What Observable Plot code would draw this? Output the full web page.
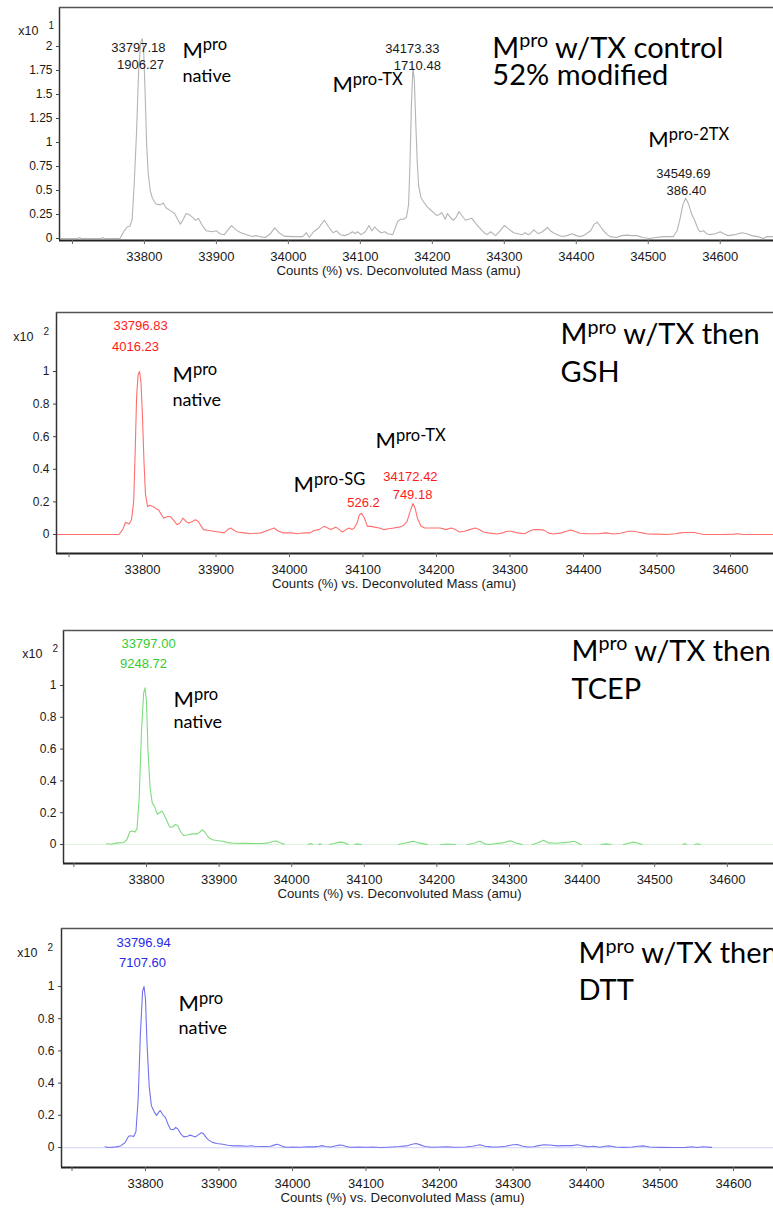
<!DOCTYPE html>
<html><head><meta charset="utf-8">
<script src="https://cdn.jsdelivr.net/npm/d3@7"></script>
<script src="https://cdn.jsdelivr.net/npm/@observablehq/plot@0.6"></script>
<style>
body{margin:0;background:#fff;}
#root{position:relative;width:773px;height:1208px;overflow:hidden;background:#fff;}
.panel{position:absolute;left:0;width:773px;}
</style></head><body><div id="root"></div>
<script>
// ---------- data ----------
const xTicks = [33700, 33800, 33900, 34000, 34100, 34200, 34300, 34400, 34500, 34600];
const yTicksControl = [0, 0.25, 0.5, 0.75, 1, 1.25, 1.5, 1.75, 2];
const yTicksOther = [0, 0.2, 0.4, 0.6, 0.8, 1];
const axisTitle = "Counts (%) vs. Deconvoluted Mass (amu)";

// Mpro w/TX control (x10^1)
const controlTrace = [[33684,0],[33708,0],[33710,0.01],[33712,0],[33740,0],[33742,0.01],[33744,0],[33766,0],[33772,0.08],[33776,0.12],[33780,0.13],[33783,0.2],[33786,0.6],[33789,1.1],[33792,1.75],[33795,2.05],[33797,2.08],[33799,1.95],[33801,1.5],[33803,1.0],[33805,0.7],[33808,0.5],[33811,0.42],[33816,0.36],[33822,0.35],[33826,0.37],[33830,0.32],[33836,0.29],[33842,0.26],[33846,0.2],[33850,0.15],[33854,0.2],[33858,0.26],[33862,0.25],[33867,0.22],[33871,0.19],[33875,0.21],[33880,0.14],[33886,0.08],[33894,0.07],[33900,0.08],[33905,0.05],[33911,0.04],[33916,0.09],[33921,0.135],[33927,0.09],[33934,0.06],[33942,0.04],[33950,0.02],[33955,0.03],[33960,0.02],[33968,0.01],[33975,0.05],[33981,0.11],[33987,0.06],[33994,0.025],[34005,0.02],[34015,0.02],[34020,0.02],[34025,0.06],[34029,0.01],[34035,0.07],[34042,0.11],[34050,0.19],[34056,0.12],[34062,0.06],[34067,0.08],[34072,0.04],[34078,0.03],[34085,0.05],[34089,0.07],[34093,0.05],[34096,0.07],[34101,0.04],[34107,0.07],[34112,0.135],[34116,0.08],[34120,0.12],[34125,0.08],[34129,0.06],[34134,0.07],[34138,0.05],[34145,0.04],[34148,0.1],[34152,0.18],[34156,0.2],[34160,0.2],[34164,0.22],[34167,0.35],[34169,0.8],[34171,1.4],[34173,1.78],[34175,1.65],[34177,1.2],[34179,0.8],[34181,0.55],[34184,0.43],[34188,0.38],[34193,0.33],[34197,0.3],[34202,0.27],[34206,0.24],[34210,0.25],[34213,0.27],[34218,0.2],[34221,0.26],[34225,0.22],[34229,0.19],[34233,0.22],[34237,0.28],[34241,0.24],[34246,0.19],[34250,0.2],[34255,0.21],[34261,0.15],[34267,0.1],[34272,0.06],[34276,0.04],[34281,0.07],[34288,0.03],[34294,0.08],[34300,0.135],[34306,0.1],[34313,0.06],[34319,0.05],[34325,0.04],[34329,0.06],[34333,0.04],[34336,0.05],[34341,0.09],[34347,0.05],[34353,0.07],[34360,0.115],[34364,0.08],[34368,0.06],[34374,0.04],[34380,0.02],[34387,0.03],[34394,0.05],[34400,0.03],[34405,0.02],[34410,0.03],[34414,0.05],[34420,0.08],[34425,0.15],[34429,0.17],[34434,0.12],[34438,0.08],[34443,0.04],[34447,0.02],[34456,0.01],[34463,0.03],[34470,0.035],[34477,0.03],[34484,0.03],[34492,0.01],[34502,0],[34510,0.01],[34521,0.02],[34528,0.02],[34535,0.02],[34540,0.08],[34544,0.2],[34548,0.35],[34552,0.42],[34556,0.36],[34560,0.26],[34565,0.18],[34569,0.1],[34572,0.07],[34577,0.08],[34581,0.05],[34586,0.04],[34593,0.05],[34600,0.07],[34605,0.05],[34611,0.03],[34620,0.04],[34630,0.06],[34637,0.05],[34644,0.03],[34652,0.02],[34660,0],[34665,0.02],[34674,0.02]];

// Mpro w/TX then GSH (x10^2)
const gshTrace = [[33684,0],[33768,0],[33773,0.03],[33777,0.075],[33782,0.065],[33785,0.09],[33788,0.2],[33790,0.5],[33792,0.85],[33794,0.98],[33796,1.0],[33798,0.93],[33800,0.72],[33802,0.45],[33804,0.25],[33807,0.17],[33810,0.18],[33815,0.17],[33818,0.16],[33822,0.15],[33826,0.12],[33829,0.1],[33834,0.11],[33838,0.11],[33842,0.09],[33847,0.06],[33851,0.07],[33855,0.1],[33859,0.08],[33863,0.07],[33868,0.08],[33872,0.09],[33876,0.08],[33880,0.05],[33883,0.03],[33890,0.025],[33897,0.02],[33904,0.015],[33911,0.01],[33916,0.03],[33920,0.04],[33925,0.025],[33929,0.015],[33938,0.01],[33947,0.005],[33955,0.008],[33961,0.01],[33970,0.025],[33979,0.04],[33985,0.02],[33992,0.01],[34003,0.01],[34010,0.005],[34015,0.008],[34022,0.01],[34028,0.01],[34033,0.025],[34040,0.03],[34047,0.05],[34052,0.04],[34056,0.03],[34063,0.045],[34068,0.03],[34072,0.015],[34077,0.03],[34081,0.04],[34085,0.03],[34088,0.04],[34092,0.07],[34095,0.12],[34098,0.13],[34102,0.1],[34106,0.05],[34111,0.05],[34116,0.045],[34122,0.04],[34128,0.03],[34135,0.035],[34142,0.04],[34149,0.045],[34155,0.055],[34160,0.08],[34164,0.14],[34168,0.19],[34171,0.16],[34174,0.1],[34179,0.05],[34184,0.04],[34190,0.04],[34198,0.04],[34205,0.04],[34213,0.03],[34220,0.04],[34226,0.03],[34231,0.015],[34238,0.02],[34245,0.03],[34253,0.04],[34258,0.03],[34264,0.015],[34270,0.01],[34282,0.003],[34290,0.01],[34296,0.02],[34302,0.02],[34310,0.01],[34320,0.005],[34326,0.02],[34332,0.03],[34340,0.03],[34346,0.027],[34352,0.01],[34359,0.003],[34370,0.01],[34377,0.02],[34382,0.027],[34388,0.02],[34395,0.008],[34405,0.005],[34420,0.005],[34430,0.01],[34441,0.003],[34450,0.008],[34457,0.015],[34462,0.02],[34468,0.02],[34473,0.015],[34480,0.01],[34487,0.003],[34500,0.002],[34514,0],[34525,0.005],[34532,0.01],[34537,0.012],[34545,0.012],[34551,0.012],[34558,0.005],[34564,0],[34590,0],[34605,0.002],[34611,0.005],[34616,0],[34623,0],[34659,0]];

// Mpro w/TX then TCEP (x10^2); null = gap in the trace
const tcepTrace = [[33745,0.005],[33752,0.002],[33760,0.01],[33768,0.012],[33773,0.03],[33777,0.08],[33780,0.085],[33784,0.078],[33787,0.1],[33790,0.3],[33793,0.7],[33796,0.95],[33798,0.985],[33800,0.9],[33802,0.6],[33805,0.35],[33808,0.26],[33811,0.24],[33815,0.19],[33818,0.2],[33821,0.21],[33824,0.19],[33828,0.15],[33832,0.11],[33836,0.11],[33840,0.126],[33843,0.12],[33847,0.08],[33851,0.057],[33856,0.06],[33863,0.067],[33870,0.067],[33874,0.08],[33877,0.092],[33880,0.08],[33883,0.06],[33886,0.042],[33891,0.03],[33897,0.025],[33905,0.02],[33912,0.012],[33920,0.008],[33935,0.007],[33950,0.006],[33960,0.006],[33968,0.01],[33975,0.02],[33979,0.022],[33983,0.012],[33990,0.002],[33991,null],[34023,0],[34026,0.006],[34029,0],[34030,null],[34037,0],[34039,0.005],[34041,0],[34042,null],[34052,0],[34058,0.006],[34063,0.012],[34068,0.015],[34073,0.01],[34078,0],[34079,null],[34087,0],[34090,0.004],[34096,0],[34097,null],[34147,0],[34155,0.008],[34162,0.015],[34168,0.02],[34175,0.01],[34182,0.004],[34187,0],[34188,null],[34205,0],[34215,0.003],[34226,0],[34227,null],[34242,0],[34250,0.006],[34259,0.02],[34266,0.004],[34272,0],[34280,0.005],[34290,0.01],[34301,0.023],[34310,0.008],[34318,0],[34319,null],[34332,0],[34340,0.012],[34347,0.027],[34354,0.01],[34365,0.008],[34375,0.012],[34382,0.015],[34389,0.02],[34395,0.008],[34398,0],[34399,null],[34426,0],[34433,0.004],[34440,0],[34441,null],[34457,0],[34464,0.008],[34471,0.015],[34477,0.008],[34483,0],[34484,null],[34539,0],[34541,0.006],[34544,0],[34545,null],[34555,0],[34559,0.005],[34563,0]];

// Mpro w/TX then DTT (x10^2)
const dttTrace = [[33745,0.005],[33750,0],[33760,0.004],[33766,0.01],[33772,0.03],[33777,0.07],[33780,0.073],[33784,0.068],[33787,0.1],[33790,0.3],[33793,0.7],[33796,0.97],[33798,1.0],[33800,0.92],[33802,0.65],[33805,0.38],[33808,0.26],[33812,0.22],[33815,0.2],[33818,0.22],[33820,0.23],[33824,0.2],[33827,0.187],[33831,0.14],[33834,0.114],[33838,0.11],[33841,0.125],[33844,0.115],[33848,0.085],[33852,0.066],[33857,0.07],[33861,0.077],[33865,0.07],[33868,0.066],[33872,0.08],[33876,0.092],[33879,0.085],[33883,0.06],[33886,0.046],[33891,0.032],[33897,0.025],[33905,0.02],[33912,0.014],[33920,0.01],[33930,0.01],[33938,0.008],[33944,0.011],[33948,0.008],[33960,0.006],[33970,0.008],[33975,0.015],[33979,0.02],[33984,0.012],[33988,0.004],[33993,0.002],[34000,0.003],[34010,0.002],[34020,0.005],[34030,0.004],[34036,0.008],[34040,0.012],[34045,0.006],[34052,0.003],[34058,0.01],[34064,0.015],[34068,0.014],[34072,0.008],[34078,0.002],[34090,0.003],[34100,0.002],[34110,0.003],[34120,0],[34130,0.002],[34145,0.006],[34155,0.01],[34163,0.02],[34168,0.025],[34173,0.018],[34180,0.006],[34190,0.002],[34200,0.003],[34210,0.005],[34220,0.002],[34235,0.003],[34245,0.008],[34255,0.017],[34262,0.008],[34270,0.004],[34280,0.003],[34290,0.008],[34300,0.017],[34306,0.019],[34312,0.01],[34320,0.003],[34328,0.005],[34335,0.012],[34342,0.017],[34350,0.016],[34360,0.01],[34370,0.012],[34380,0.012],[34388,0.017],[34395,0.01],[34403,0.005],[34410,0.008],[34418,0.002],[34425,0.008],[34432,0.01],[34440,0.003],[34450,0.001],[34462,0.003],[34470,0.008],[34478,0.01],[34486,0.003],[34500,0.001],[34520,0],[34535,0.001],[34544,0.005],[34550,0],[34558,0.005],[34570,0.001]];

// peak labels (mass / counts)
const controlPeaks = [{text:"33797.18",x:33791.7,y:1.99},{text:"1906.27",x:33794.5,y:1.81},{text:"34173.33",x:34172.3,y:1.98},{text:"1710.48",x:34179.2,y:1.80},{text:"34549.69",x:34548.7,y:0.677},{text:"386.40",x:34552.9,y:0.50}];
const gshPeaks = [{text:"33796.83",x:33797.3,y:1.282},{text:"4016.23",x:33790.5,y:1.153},{text:"526.2",x:34100.7,y:0.196},{text:"34172.42",x:34164.6,y:0.356},{text:"749.18",x:34167.4,y:0.245}];
const tcepPeaks = [{text:"33797.00",x:33802.8,y:1.264},{text:"9248.72",x:33795.9,y:1.138}];
const dttPeaks = [{text:"33796.94",x:33797.3,y:1.273},{text:"7107.60",x:33795.9,y:1.149}];

// species / condition labels  (^{...} = superscript)
const controlNotes = [{text:"M^{pro}",x:33852.8,y:1.885,s:22},{text:"native",x:33852.8,y:1.625,s:18},{text:"M^{pro-TX}",x:34061.2,y:1.521,s:22},{text:"M^{pro-2TX}",x:34500.1,y:0.948,s:22},{text:"M^{pro} w/TX control",x:34283.4,y:1.885,s:29},{text:"52% modified",x:34283.4,y:1.594,s:29}];
const gshNotes = [{text:"M^{pro}",x:33840.8,y:0.933,s:22},{text:"native",x:33840.8,y:0.791,s:18},{text:"M^{pro-SG}",x:34005.4,y:0.258,s:22},{text:"M^{pro-TX}",x:34117,y:0.528,s:22},{text:"M^{pro} w/TX then",x:34368.7,y:1.166,s:29},{text:"GSH",x:34368.7,y:0.933,s:29}];
const tcepNotes = [{text:"M^{pro}",x:33837.2,y:0.862,s:22},{text:"native",x:33837.2,y:0.730,s:18},{text:"M^{pro} w/TX then",x:34385.4,y:1.157,s:29},{text:"TCEP",x:34385.4,y:0.918,s:29}];
const dttNotes = [{text:"M^{pro}",x:33844.9,y:0.845,s:22},{text:"native",x:33844.9,y:0.708,s:18},{text:"M^{pro} w/TX then",x:34389.1,y:1.143,s:29},{text:"DTT",x:34389.1,y:0.913,s:29}];

// ---------- layout ----------
const panels = [
  {top:0,height:280,mt:7,mb:40,ml:59,xd:[33682,34674],yd:[-0.0208,2.406],yt:yTicksControl,exp:"1",trace:controlTrace,line:"#b4b4b4",lab:"#1a1a1a",peaks:controlPeaks,notes:controlNotes,base:null,expDx:-21,expDy:23,titleDx:-18},
  {top:290,height:310,mt:22,mb:47,ml:56,xd:[33683,34658.5],yd:[-0.1166,1.362],yt:yTicksOther,exp:"2",trace:gshTrace,line:"#ff6f6f",lab:"#ff1a1a",peaks:gshPeaks,notes:gshNotes,base:null,expDx:-23,expDy:24,titleDx:-21},
  {top:600,height:300,mt:30,mb:37,ml:63,xd:[33685.7,34663.6],yd:[-0.1195,1.346],yt:yTicksOther,exp:"2",trace:tcepTrace,line:"#7fdc7f",lab:"#33cc33",peaks:tcepPeaks,notes:tcepNotes,base:"#dcf5dc",expDx:-21,expDy:23,titleDx:-19},
  {top:900,height:308,mt:28,mb:41,ml:61,xd:[33685.7,34654.4],yd:[-0.124,1.360],yt:yTicksOther,exp:"2",trace:dttTrace,line:"#7373ee",lab:"#2828e6",peaks:dttPeaks,notes:dttNotes,base:"#dcdcfa",expDx:-24,expDy:24,titleDx:-15}
];

function supify(svg){
  const ns = "http://www.w3.org/2000/svg";
  svg.querySelectorAll("text").forEach(t => {
    const s = t.textContent;
    const m = s.match(/^(.*?)\^\{(.*?)\}(.*)$/);
    if (!m) return;
    const fs = parseFloat(getComputedStyle(t).fontSize);
    const ratio = fs > 25 ? 0.68 : 0.75;
    t.textContent = "";
    const a = document.createElementNS(ns, "tspan"); a.textContent = m[1]; t.appendChild(a);
    const b = document.createElementNS(ns, "tspan"); b.textContent = m[2];
    b.setAttribute("font-size", (fs * ratio).toFixed(1) + "px"); b.setAttribute("dy", (-fs * 0.36).toFixed(1));
    t.appendChild(b);
    if (m[3]) { const c = document.createElementNS(ns, "tspan"); c.textContent = m[3]; c.setAttribute("dy", (fs * 0.36).toFixed(1)); t.appendChild(c); }
  });
}

const root = document.getElementById("root");
for (const p of panels) {
  const marks = [];
  if (p.base) marks.push(Plot.ruleY([0], {stroke: p.base, strokeWidth: 1.2}));
  marks.push(Plot.line(p.trace, {x: d => d[0], y: d => d[1], stroke: p.line, strokeWidth: 1.1}));
  marks.push(Plot.ruleX([p.xd[0]], {stroke: "#333", strokeWidth: 1.5}));
  marks.push(Plot.ruleY([p.yd[1]], {stroke: "#555", strokeWidth: 1.3}));
  marks.push(Plot.ruleY([p.yd[0]], {stroke: "#222", strokeWidth: 2}));
  marks.push(Plot.axisX(xTicks, {tickSize: 4, tickPadding: 7, fontSize: 13, label: null, stroke: "#666", fill: "#1a1a1a",
    tickFormat: d => d < 33800 ? "" : String(d)}));
  marks.push(Plot.axisY(p.yt, {tickSize: 3, tickPadding: 4, fontSize: 12, label: null, stroke: "#444", fill: "#1a1a1a",
    tickFormat: d => String(d)}));
  marks.push(Plot.text([axisTitle], {frameAnchor: "bottom", text: d => d, dx: p.titleDx, dy: 30, lineAnchor: "middle", fontSize: 13.2, fill: "#1a1a1a"}));
  marks.push(Plot.text(["x10"], {frameAnchor: "top-left", text: d => d, textAnchor: "end", dx: p.expDx, dy: p.expDy, lineAnchor: "middle", fontSize: 12.5, fill: "#1a1a1a"}));
  marks.push(Plot.text([p.exp], {frameAnchor: "top-left", text: d => d, textAnchor: "start", dx: p.expDx + 10, dy: p.expDy - 5, lineAnchor: "middle", fontSize: 10, fill: "#1a1a1a"}));
  marks.push(Plot.text(p.peaks, {x: "x", y: "y", text: "text", textAnchor: "middle", lineAnchor: "middle", fontSize: 13, fill: p.lab}));
  marks.push(Plot.text(p.notes, {x: "x", y: "y", text: "text", textAnchor: "start", lineAnchor: "bottom", fontSize: "s", fill: "#000", fontFamily: "Lato"}));
  const svg = Plot.plot({
    width: 773, height: p.height,
    marginTop: p.mt, marginBottom: p.mb, marginLeft: p.ml, marginRight: 0,
    x: {domain: p.xd}, y: {domain: p.yd},
    style: {fontFamily: "'Liberation Sans', Arial, sans-serif", background: "transparent", color: "#1a1a1a", overflow: "visible"},
    marks
  });
  const div = document.createElement("div");
  div.className = "panel"; div.style.top = p.top + "px";
  div.appendChild(svg);
  root.appendChild(div);
  supify(svg);
}
</script></body></html>
